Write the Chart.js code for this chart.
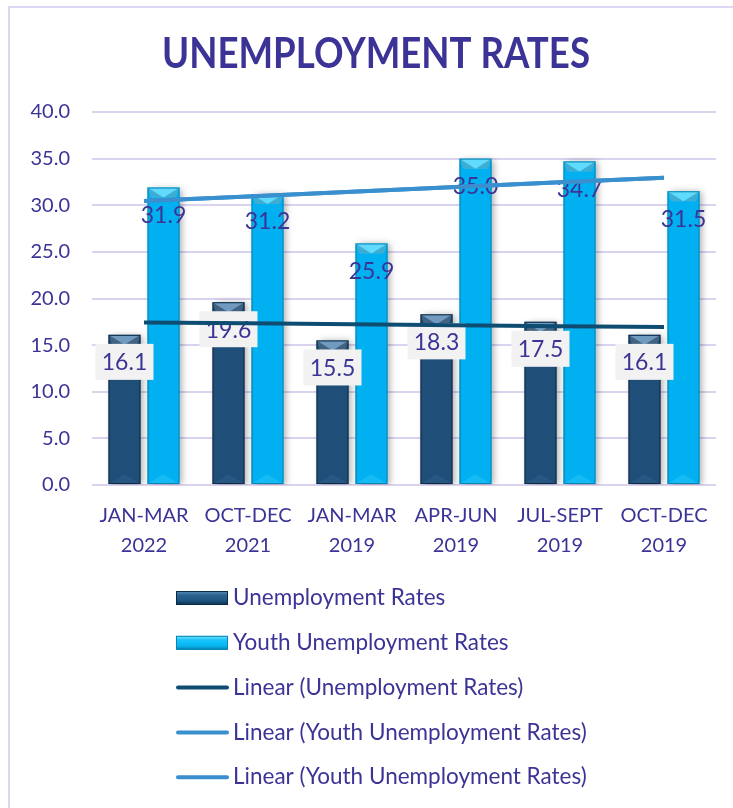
<!DOCTYPE html>
<html>
<head>
<meta charset="utf-8">
<title>Unemployment Rates</title>
<script src="https://cdn.jsdelivr.net/npm/chart.js@4.4.1/dist/chart.umd.min.js"></script>
<style>
  html, body { margin: 0; padding: 0; background: #ffffff; }
  #wrap { position: relative; width: 733px; height: 808px; }
</style>
</head>
<body>
<div id="wrap"><canvas id="rates" width="733" height="808"></canvas></div>
<script>
// quarters shown on the x axis (two lines each)
var quarters = [
  ["JAN-MAR", "2022"],
  ["OCT-DEC", "2021"],
  ["JAN-MAR", "2019"],
  ["APR-JUN", "2019"],
  ["JUL-SEPT", "2019"],
  ["OCT-DEC", "2019"]
];
var unemployment = [16.1, 19.6, 15.5, 18.3, 17.5, 16.1];
var youthUnemployment = [31.9, 31.2, 25.9, 35.0, 34.7, 31.5];
var yTicks = [0, 5, 10, 15, 20, 25, 30, 35, 40];

var TITLE = "UNEMPLOYMENT RATES";
var TEXT = "#3b3496";
var FONT = "Lato, 'Open Sans', sans-serif";

// least squares line over the category positions, like a spreadsheet trendline
function linearTrend(values) {
  var n = values.length, sx = 0, sy = 0, sxy = 0, sxx = 0;
  values.forEach(function (v, i) {
    var x = i + 1;
    sx += x; sy += v; sxy += x * v; sxx += x * x;
  });
  var slope = (n * sxy - sx * sy) / (n * sxx - sx * sx);
  var icpt = (sy - slope * sx) / n;
  return values.map(function (v, i) { return +(icpt + slope * (i + 1)).toFixed(3); });
}

function barGradient(ctx, chart, dark) {
  var area = chart.chartArea;
  if (!area) return dark ? "#1f4e79" : "#00b0f0";
  var el = ctx.element;
  if (!el || el.width === undefined) return dark ? "#1f4e79" : "#00b0f0";
  var x0 = el.x - el.width / 2, x1 = el.x + el.width / 2;
  if (!isFinite(x0) || !isFinite(x1) || x1 <= x0) return dark ? "#1f4e79" : "#00b0f0";
  var g = chart.ctx.createLinearGradient(x0, 0, x1, 0);
  if (dark) {
    g.addColorStop(0, "#163f60");
    g.addColorStop(0.12, "#2a6390");
    g.addColorStop(0.55, "#1d5581");
    g.addColorStop(0.88, "#123e62");
    g.addColorStop(1, "#0b2c47");
  } else {
    g.addColorStop(0, "#0a9fd8");
    g.addColorStop(0.12, "#19c3fb");
    g.addColorStop(0.55, "#06b6f2");
    g.addColorStop(0.88, "#0399cf");
    g.addColorStop(1, "#0680b0");
  }
  return g;
}

// frame, title, bar shading, boxed value labels and the stacked legend
var decor = {
  id: "decor",
  beforeDraw: function (chart) {
    var c = chart.ctx;
    c.save();
    c.strokeStyle = "#dcd7f4";
    c.lineWidth = 2;
    c.beginPath();
    c.moveTo(9, chart.height);
    c.lineTo(9, 7);
    c.lineTo(chart.width, 7);
    c.stroke();

    // title, a little taller than wide
    c.translate(376, 55);
    c.scale(0.99, 1.12);
    c.font = "bold 37px " + FONT;
    c.fillStyle = TEXT;
    c.textAlign = "center";
    c.textBaseline = "middle";
    c.fillText(TITLE, 0, 0);
    c.restore();
  },
  beforeDatasetsDraw: function (chart) {
    chart.$labelsDone = false;
  },
  beforeDatasetDraw: function (chart, args) {
    var c = chart.ctx;
    if (args.meta.type === "bar") {
      c.save();
      c.shadowColor = "rgba(0,0,0,0.35)";
      c.shadowBlur = 7;
      c.shadowOffsetX = 3;
      c.shadowOffsetY = 1;
    } else if (!chart.$labelsDone) {
      chart.$labelsDone = true;
      drawValueLabels(chart);
    }
  },
  afterDatasetDraw: function (chart, args) {
    if (args.meta.type !== "bar") return;
    var c = chart.ctx;
    c.restore();
    var dark = args.index === 0;
    args.meta.data.forEach(function (bar) {
      var l = bar.x - bar.width / 2, r = bar.x + bar.width / 2;
      var t = bar.y, b = bar.base, h = 10;
      c.save();
      c.fillStyle = dark ? "rgba(140,180,215,0.75)" : "rgba(120,230,255,0.8)";
      c.beginPath();
      c.moveTo(l, t); c.lineTo(r, t); c.lineTo(r - 4, t + h); c.lineTo(l + 4, t + h);
      c.closePath(); c.fill();
      c.fillStyle = dark ? "rgba(8,30,50,0.45)" : "rgba(0,90,140,0.35)";
      c.beginPath();
      c.moveTo(l, t); c.lineTo(bar.x, t + h); c.lineTo(l + 4, t + h); c.closePath(); c.fill();
      c.beginPath();
      c.moveTo(r, t); c.lineTo(bar.x, t + h); c.lineTo(r - 4, t + h); c.closePath(); c.fill();
      c.fillStyle = dark ? "rgba(60,110,155,0.25)" : "rgba(90,220,255,0.25)";
      c.beginPath();
      c.moveTo(l, b); c.lineTo(r, b); c.lineTo(bar.x, b - h);
      c.closePath(); c.fill();
      c.strokeStyle = dark ? "#0b2a44" : "#0784b3";
      c.lineWidth = 1;
      c.strokeRect(l + 0.5, t + 0.5, bar.width - 1, b - t - 1);
      c.restore();
    });
  },
  afterDraw: function (chart) {
    var c = chart.ctx;
    var left = chart.chartArea.left + 84;
    var top = chart.chartArea.bottom + 113;
    c.save();
    c.font = "22.5px " + FONT;
    c.textBaseline = "middle";
    c.textAlign = "left";
    chart.data.datasets.forEach(function (ds, i) {
      var y = top + i * 44.8;
      if (ds.type === "line") {
        c.strokeStyle = ds.borderColor;
        c.lineWidth = 4;
        c.lineCap = "round";
        c.beginPath();
        c.moveTo(left + 2, y); c.lineTo(left + 51, y);
        c.stroke();
      } else {
        var g = c.createLinearGradient(0, y - 7, 0, y + 7);
        if (i === 0) {
          g.addColorStop(0, "#5a8fbb"); g.addColorStop(0.3, "#2a6390");
          g.addColorStop(0.7, "#1d5581"); g.addColorStop(1, "#0b2c47");
        } else {
          g.addColorStop(0, "#7ee6ff"); g.addColorStop(0.3, "#19c3fb");
          g.addColorStop(0.7, "#06b6f2"); g.addColorStop(1, "#0680b0");
        }
        c.fillStyle = g;
        c.fillRect(left, y - 7, 52, 14);
        c.strokeStyle = i === 0 ? "#0b2a44" : "#0784b3";
        c.lineWidth = 1;
        c.strokeRect(left + 0.5, y - 6.5, 51, 13);
      }
      c.fillStyle = TEXT;
      c.fillText(ds.label, left + 57, y);
    });
    c.restore();
  }
};

function drawValueLabels(chart) {
  var c = chart.ctx;
  c.save();
  c.font = "23px " + FONT;
  c.textAlign = "center";
  c.textBaseline = "middle";
  // youth labels sit inside the bar tops without a box
  chart.getDatasetMeta(1).data.forEach(function (bar, i) {
    c.fillStyle = TEXT;
    c.fillText(youthUnemployment[i].toFixed(1), bar.x, bar.y + 28);
  });
  chart.getDatasetMeta(0).data.forEach(function (bar, i) {
    var cy = bar.y + 27;
    c.fillStyle = "#f2f2f2";
    c.fillRect(bar.x - 29, cy - 18, 58, 36);
    c.fillStyle = TEXT;
    c.fillText(unemployment[i].toFixed(1), bar.x, cy + 1);
  });
  c.restore();
}

var unempTrend = linearTrend(unemployment);
var youthTrend = linearTrend(youthUnemployment);

new Chart(document.getElementById("rates"), {
  type: "bar",
  data: {
    labels: quarters,
    datasets: [
      {
        label: "Unemployment Rates",
        data: unemployment,
        order: 1,
        backgroundColor: function (ctx) { return barGradient(ctx, ctx.chart, true); },
        borderWidth: 0,
        barPercentage: 0.82,
        categoryPercentage: 0.75
      },
      {
        label: "Youth Unemployment Rates",
        data: youthUnemployment,
        order: 1,
        backgroundColor: function (ctx) { return barGradient(ctx, ctx.chart, false); },
        borderWidth: 0,
        barPercentage: 0.82,
        categoryPercentage: 0.75
      },
      {
        type: "line",
        label: "Linear (Unemployment Rates)",
        data: unempTrend,
        order: 0,
        borderColor: "#0f4c72",
        borderWidth: 4,
        pointRadius: 0,
        tension: 0
      },
      {
        type: "line",
        label: "Linear (Youth Unemployment Rates)",
        data: youthTrend,
        order: 0,
        borderColor: "#3a90cf",
        borderWidth: 4,
        pointRadius: 0,
        tension: 0
      },
      {
        type: "line",
        label: "Linear (Youth Unemployment Rates)",
        data: youthTrend,
        order: 0,
        borderColor: "#3a90cf",
        borderWidth: 4,
        pointRadius: 0,
        tension: 0
      }
    ]
  },
  options: {
    responsive: false,
    animation: false,
    layout: { padding: { left: 7, right: 17, top: 112, bottom: 231 } },
    plugins: {
      legend: { display: false },
      tooltip: { enabled: false },
      title: { display: false }
    },
    scales: {
      x: {
        grid: { display: false, drawTicks: false },
        border: { display: false },
        ticks: {
          color: TEXT,
          font: { family: FONT, size: 20, lineHeight: 1.5 },
          padding: 16,
          maxRotation: 0,
          autoSkip: false
        }
      },
      y: {
        min: 0,
        max: 40,
        afterBuildTicks: function (axis) {
          axis.ticks = yTicks.map(function (v) { return { value: v }; });
        },
        afterFit: function (axis) { axis.width = 85; },
        grid: { color: "#d9d3f0", lineWidth: 2, drawTicks: false },
        border: { display: false },
        ticks: {
          color: TEXT,
          font: { family: FONT, size: 20 },
          padding: 22,
          callback: function (v) { return Number(v).toFixed(1); }
        }
      }
    }
  },
  plugins: [decor]
});
</script>
</body>
</html>
